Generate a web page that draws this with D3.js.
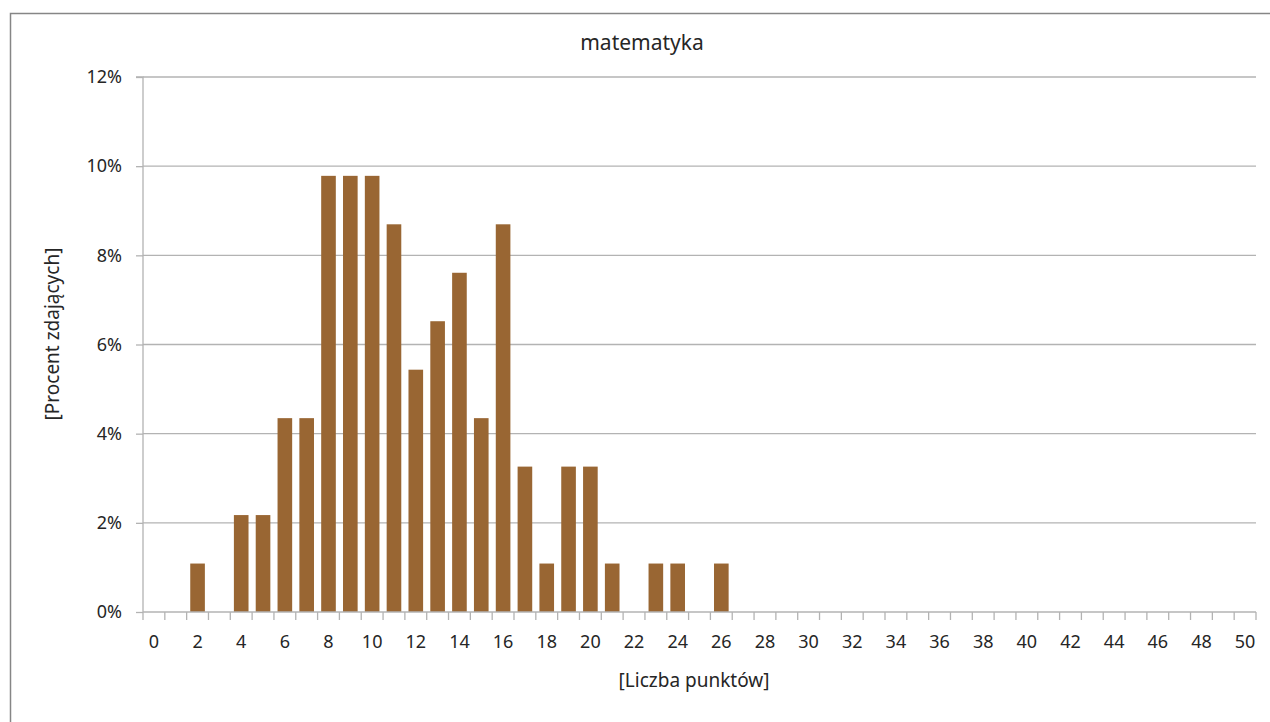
<!DOCTYPE html>
<html><head><meta charset="utf-8">
<script src="https://cdn.jsdelivr.net/npm/d3@7"></script>
<style>body{margin:0;background:#fff}svg{display:block}text{font-family:"Noto Sans","Open Sans",sans-serif;fill:#262626}</style>
</head><body><svg width="1270" height="722"></svg>
<script>
const categories = d3.range(0, 51);
const percentValues = [0,0,1.087,0,2.174,2.174,4.348,4.348,9.783,9.783,9.783,8.696,5.435,6.522,7.609,4.348,8.696,3.261,1.087,3.261,3.261,1.087,0,1.087,1.087,0,1.087,
0,0,0,0,0,0,0,0,0,0,0,0,0,0,0,0,0,0,0,0,0,0,0,0];
const yTicks = [0,2,4,6,8,10,12];
const title = "matematyka";
const xTitle = "[Liczba punktów]";
const yTitle = "[Procent zdających]";

const svg = d3.select("svg");
svg.append("rect").attr("x",10.5).attr("y",13.5).attr("width",1300).attr("height",800)
  .attr("fill","none").attr("stroke","#868686").attr("stroke-width",1.5);

const L=143, R=1256, T=77, B=612;
const x = d3.scaleBand().domain(categories).range([L,R]).paddingInner(0.33).paddingOuter(0.165);
const xb = d3.scaleLinear().domain([0,51]).range([L,R]);
const y = d3.scaleLinear().domain([0,12]).range([B,T]);

// gridlines
svg.append("g").selectAll("line").data(yTicks.filter(d=>d>0)).join("line")
  .attr("x1",L).attr("x2",R).attr("y1",d=>y(d)).attr("y2",d=>y(d))
  .attr("stroke","#b3b3b3").attr("stroke-width",1.3);

// y axis
const ya = svg.append("g").attr("transform",`translate(${L},0)`)
  .call(d3.axisLeft(y).tickValues(yTicks).tickFormat(d=>d+"%").tickSize(7).tickPadding(14));
ya.select(".domain").attr("stroke","#b3b3b3").attr("stroke-width",1.3).attr("d",`M-7,${T}H0V${B}`);
ya.selectAll(".tick line").attr("stroke","#b3b3b3").attr("stroke-width",1.3);
ya.selectAll("text").style("font-size","18px").attr("fill","#262626").attr("font-family",null);

// bars
svg.append("g").selectAll("rect").data(categories).join("rect")
  .attr("x",d=>x(d)).attr("width",x.bandwidth())
  .attr("y",(d,i)=>y(percentValues[i])).attr("height",(d,i)=>B-y(percentValues[i]))
  .attr("fill","#996633");

// x axis
const xa = svg.append("g").attr("transform",`translate(0,${B})`)
  .call(d3.axisBottom(x).tickValues(categories).tickFormat(d=>d%2===0?d:"").tickSize(0).tickPadding(23));
xa.select(".domain").remove();
xa.selectAll("text").style("font-size","18px").attr("fill","#262626").attr("font-family",null);
svg.append("line").attr("x1",L).attr("x2",R).attr("y1",B).attr("y2",B).attr("stroke","#b3b3b3").attr("stroke-width",1.3);
svg.append("g").selectAll("line").data(d3.range(0,52)).join("line")
  .attr("x1",d=>xb(d)).attr("x2",d=>xb(d)).attr("y1",B).attr("y2",B+8)
  .attr("stroke","#b3b3b3").attr("stroke-width",1.3);

svg.append("text").attr("x",642).attr("y",50).attr("text-anchor","middle").style("font-size","21px").text(title);
svg.append("text").attr("x",694).attr("y",687).attr("text-anchor","middle").style("font-size","19px").text(xTitle);
svg.append("text").attr("transform","translate(59,334) rotate(-90)").attr("text-anchor","middle").style("font-size","19px").text(yTitle);
</script></body></html>
